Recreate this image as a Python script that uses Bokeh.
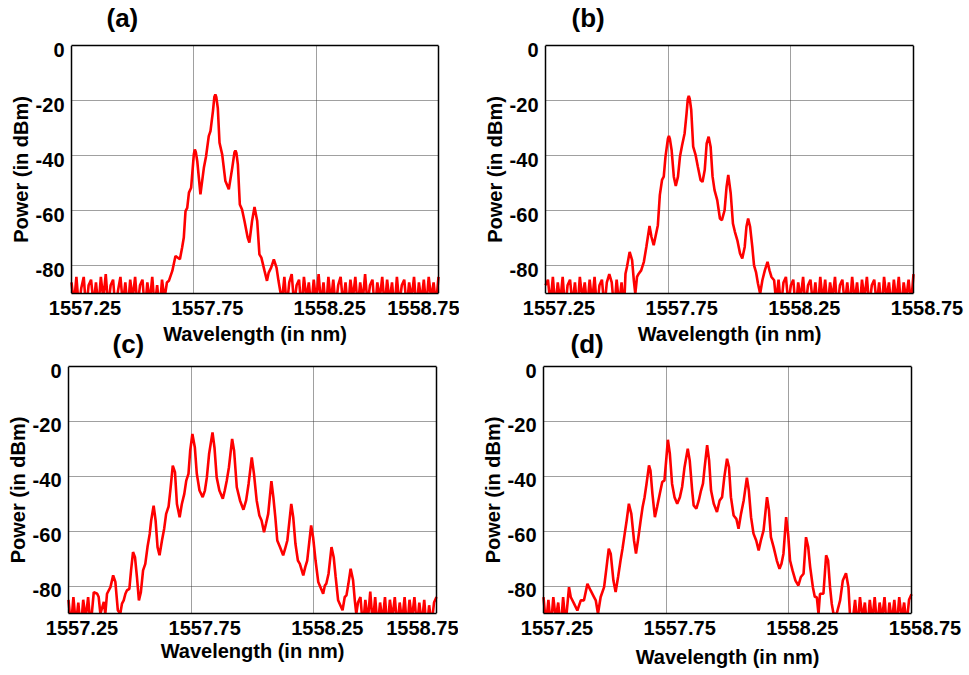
from bokeh.plotting import figure
from bokeh.layouts import column, row
from bokeh.models import Range1d, FixedTicker, LinearAxis, Grid, Span, PrintfTickFormatter
from bokeh.embed import file_html
from bokeh.resources import INLINE

# ---------------- data ----------------
X_START, X_END = 1557.25, 1558.75
Y_START, Y_END = -90, 0
X_TICKS = [1557.25, 1557.75, 1558.25, 1558.75]
X_GRID = [1557.75, 1558.25]
Y_TICKS = [-80, -60, -40, -20, 0]
Y_GRID = [-80, -60, -40, -20]
PANEL_TAGS = ["(a)", "(b)", "(c)", "(d)"]
X_LABEL = "Wavelength (in nm)"
Y_LABEL = "Power (in dBm)"

# panel (a): (wavelength nm, power dBm)
A_NOISE_LEFT = [(1557.25, -86), (1557.26, -94), (1557.27, -84), (1557.28, -95), (1557.29, -88), (1557.30, -84),
                (1557.31, -96), (1557.32, -87), (1557.33, -85), (1557.34, -94), (1557.35, -86), (1557.36, -95),
                (1557.37, -84), (1557.38, -92), (1557.39, -83), (1557.40, -95), (1557.41, -87), (1557.42, -85),
                (1557.43, -96), (1557.44, -89), (1557.45, -84), (1557.46, -94), (1557.47, -86), (1557.48, -96),
                (1557.49, -85), (1557.50, -92), (1557.51, -84), (1557.52, -95), (1557.53, -87), (1557.54, -85),
                (1557.55, -96), (1557.56, -86), (1557.57, -93), (1557.58, -84), (1557.59, -95), (1557.60, -87),
                (1557.61, -96), (1557.62, -85), (1557.63, -92), (1557.64, -86)]
A_SIGNAL = [(1557.648, -85.4), (1557.662, -81.8), (1557.675, -76.4), (1557.693, -77.6), (1557.702, -73.4),
            (1557.709, -69.7), (1557.716, -60.1), (1557.723, -58.9), (1557.730, -53.4), (1557.739, -51.6),
            (1557.750, -39.5), (1557.754, -37.7), (1557.758, -38.6), (1557.764, -42.0), (1557.777, -54.0),
            (1557.791, -44.4), (1557.800, -40.2), (1557.811, -32.9), (1557.818, -31.1), (1557.828, -23.9),
            (1557.834, -18.6), (1557.838, -17.8), (1557.842, -18.8), (1557.848, -22.7), (1557.855, -35.3),
            (1557.866, -39.6), (1557.879, -49.2), (1557.893, -52.2), (1557.907, -44.4), (1557.916, -38.8),
            (1557.920, -38.1), (1557.924, -39.0), (1557.930, -43.2), (1557.938, -57.7), (1557.947, -59.5),
            (1557.957, -63.7), (1557.970, -69.7), (1557.977, -71.5), (1557.988, -63.7), (1557.998, -58.6),
            (1558.009, -63.7), (1558.018, -75.8), (1558.026, -77.0), (1558.039, -81.8), (1558.049, -85.4),
            (1558.056, -82.4), (1558.066, -80.6), (1558.077, -77.6), (1558.088, -80.6), (1558.096, -85.4),
            (1558.104, -89.6)]
A_NOISE_RIGHT = [(1558.11, -93), (1558.12, -84), (1558.13, -95), (1558.14, -86), (1558.15, -83), (1558.16, -94),
                 (1558.17, -87), (1558.18, -85), (1558.19, -96), (1558.20, -84), (1558.21, -92), (1558.22, -86),
                 (1558.23, -95), (1558.24, -85), (1558.25, -93), (1558.26, -83), (1558.27, -94), (1558.28, -86),
                 (1558.29, -96), (1558.30, -84), (1558.31, -93), (1558.32, -85), (1558.33, -95), (1558.34, -87),
                 (1558.35, -84), (1558.36, -94), (1558.37, -86), (1558.38, -96), (1558.39, -85), (1558.40, -92),
                 (1558.41, -84), (1558.42, -95), (1558.43, -86), (1558.44, -93), (1558.45, -83), (1558.46, -94),
                 (1558.47, -87), (1558.48, -85), (1558.49, -96), (1558.50, -86), (1558.51, -92), (1558.52, -84),
                 (1558.53, -95), (1558.54, -85), (1558.55, -93), (1558.56, -86), (1558.57, -96), (1558.58, -84),
                 (1558.59, -94), (1558.60, -87), (1558.61, -85), (1558.62, -95), (1558.63, -86), (1558.64, -92),
                 (1558.65, -84), (1558.66, -96), (1558.67, -86), (1558.68, -93), (1558.69, -85), (1558.70, -95),
                 (1558.71, -84), (1558.72, -92), (1558.73, -86), (1558.74, -94), (1558.75, -84)]

# panel (b)
B_NOISE_LEFT = [(1557.25, -87), (1557.26, -85), (1557.27, -94), (1557.28, -84), (1557.29, -95), (1557.30, -86),
                (1557.31, -93), (1557.32, -84), (1557.33, -96), (1557.34, -87), (1557.35, -85), (1557.36, -94),
                (1557.37, -86), (1557.38, -96), (1557.39, -84), (1557.40, -92), (1557.41, -86), (1557.42, -95),
                (1557.43, -85), (1557.44, -93), (1557.45, -84), (1557.46, -96), (1557.47, -87), (1557.48, -85),
                (1557.49, -95), (1557.50, -86), (1557.51, -83), (1557.52, -86), (1557.53, -96), (1557.54, -85),
                (1557.55, -94), (1557.56, -86), (1557.57, -96)]
B_SIGNAL = [(1557.576, -82.8), (1557.582, -80.4), (1557.593, -74.9), (1557.603, -77.9), (1557.610, -85.2),
            (1557.616, -90.1), (1557.623, -84.0), (1557.630, -82.8), (1557.640, -81.6), (1557.651, -78.5),
            (1557.661, -73.1), (1557.674, -65.5), (1557.682, -69.5), (1557.691, -72.5), (1557.698, -69.5),
            (1557.708, -65.2), (1557.716, -54.3), (1557.725, -48.8), (1557.732, -47.6), (1557.739, -40.4),
            (1557.749, -33.8), (1557.753, -32.8), (1557.757, -33.9), (1557.764, -37.9), (1557.773, -47.6),
            (1557.781, -51.0), (1557.790, -47.6), (1557.798, -40.4), (1557.807, -36.1), (1557.817, -31.9),
            (1557.825, -24.6), (1557.830, -19.5), (1557.834, -18.3), (1557.838, -19.4), (1557.844, -23.4),
            (1557.852, -36.7), (1557.862, -39.8), (1557.871, -44.0), (1557.882, -48.8), (1557.890, -49.5),
            (1557.899, -45.2), (1557.907, -35.5), (1557.915, -33.1), (1557.923, -36.7), (1557.931, -47.6),
            (1557.939, -52.5), (1557.950, -56.1), (1557.961, -62.8), (1557.969, -63.4), (1557.980, -59.8),
            (1557.988, -51.3), (1557.995, -47.0), (1558.005, -53.7), (1558.014, -64.6), (1558.022, -67.6),
            (1558.032, -70.7), (1558.043, -75.5), (1558.052, -77.3), (1558.062, -73.1), (1558.069, -65.8),
            (1558.076, -62.8), (1558.084, -65.8), (1558.093, -73.1), (1558.100, -79.8), (1558.108, -82.2),
            (1558.116, -86.4), (1558.125, -90.1), (1558.134, -85.2), (1558.144, -81.6), (1558.155, -78.5),
            (1558.163, -81.6), (1558.171, -84.0), (1558.182, -85.2)]
B_NOISE_RIGHT = [(1558.19, -93), (1558.20, -85), (1558.21, -95), (1558.22, -86), (1558.23, -84), (1558.24, -94),
                 (1558.25, -87), (1558.26, -85), (1558.27, -96), (1558.28, -86), (1558.29, -92), (1558.30, -84),
                 (1558.31, -95), (1558.32, -87), (1558.33, -85), (1558.34, -94), (1558.35, -86), (1558.36, -96),
                 (1558.37, -84), (1558.38, -93), (1558.39, -85), (1558.40, -95), (1558.41, -86), (1558.42, -92),
                 (1558.43, -84), (1558.44, -96), (1558.45, -87), (1558.46, -85), (1558.47, -94), (1558.48, -86),
                 (1558.49, -95), (1558.50, -84), (1558.51, -93), (1558.52, -86), (1558.53, -96), (1558.54, -85),
                 (1558.55, -92), (1558.56, -84), (1558.57, -95), (1558.58, -87), (1558.59, -85), (1558.60, -94),
                 (1558.61, -86), (1558.62, -96), (1558.63, -84), (1558.64, -92), (1558.65, -86), (1558.66, -95),
                 (1558.67, -85), (1558.68, -93), (1558.69, -84), (1558.70, -96), (1558.71, -86), (1558.72, -92),
                 (1558.73, -85), (1558.74, -94), (1558.75, -83)]

# panel (c)
C_NOISE_LEFT = [(1557.25, -85), (1557.26, -95), (1557.27, -84), (1557.28, -94), (1557.29, -86), (1557.30, -96),
                (1557.31, -85), (1557.32, -92), (1557.33, -84), (1557.34, -95)]
C_SIGNAL = [(1557.353, -82.2), (1557.367, -82.8), (1557.373, -84.0), (1557.380, -90.1), (1557.394, -85.8),
            (1557.400, -90.1), (1557.407, -82.8), (1557.421, -80.4), (1557.432, -76.1), (1557.441, -78.5),
            (1557.451, -88.8), (1557.461, -90.1), (1557.468, -86.4), (1557.475, -85.2), (1557.482, -82.8),
            (1557.488, -81.6), (1557.498, -81.0), (1557.505, -74.3), (1557.513, -67.6), (1557.521, -69.5),
            (1557.529, -76.7), (1557.537, -85.2), (1557.545, -82.2), (1557.554, -74.3), (1557.563, -71.9),
            (1557.572, -65.8), (1557.581, -61.0), (1557.587, -56.1), (1557.597, -50.7), (1557.605, -56.1),
            (1557.613, -65.8), (1557.621, -68.8), (1557.631, -63.4), (1557.640, -59.1), (1557.648, -53.7),
            (1557.658, -51.0), (1557.665, -45.2), (1557.675, -36.1), (1557.684, -38.5), (1557.692, -50.1),
            (1557.703, -54.9), (1557.712, -50.1), (1557.722, -46.4), (1557.730, -41.6), (1557.739, -39.1),
            (1557.746, -30.7), (1557.755, -24.6), (1557.765, -29.5), (1557.773, -39.1), (1557.784, -45.2),
            (1557.797, -47.6), (1557.806, -45.2), (1557.814, -40.4), (1557.823, -31.9), (1557.837, -24.0),
            (1557.845, -29.5), (1557.854, -40.4), (1557.865, -45.2), (1557.879, -48.2), (1557.887, -45.2),
            (1557.895, -41.6), (1557.904, -36.7), (1557.917, -26.4), (1557.925, -30.7), (1557.936, -44.0),
            (1557.949, -48.8), (1557.963, -52.2), (1557.974, -48.8), (1557.984, -42.8), (1557.997, -33.1),
            (1558.006, -39.1), (1558.017, -48.8), (1558.028, -54.3), (1558.037, -56.1), (1558.047, -60.4),
            (1558.055, -57.3), (1558.064, -53.7), (1558.077, -41.8), (1558.085, -47.6), (1558.093, -54.9),
            (1558.101, -63.4), (1558.112, -65.8), (1558.125, -68.8), (1558.133, -66.4), (1558.142, -63.4),
            (1558.158, -50.1), (1558.166, -54.9), (1558.175, -64.6), (1558.185, -70.7), (1558.193, -71.9),
            (1558.207, -76.1), (1558.215, -73.1), (1558.223, -70.7), (1558.239, -57.9), (1558.247, -62.2),
            (1558.257, -70.7), (1558.268, -78.5), (1558.277, -80.4), (1558.288, -82.8), (1558.295, -79.8),
            (1558.301, -79.1), (1558.310, -75.5), (1558.322, -65.8), (1558.331, -69.5), (1558.339, -76.7),
            (1558.349, -85.2), (1558.358, -87.0), (1558.367, -88.8), (1558.376, -84.0), (1558.383, -83.4),
            (1558.391, -79.1), (1558.400, -73.7), (1558.410, -77.9), (1558.417, -85.2), (1558.423, -90.1)]
C_NOISE_RIGHT = [(1558.43, -86), (1558.44, -84), (1558.45, -95), (1558.46, -85), (1558.47, -93), (1558.48, -82),
                 (1558.49, -94), (1558.50, -84), (1558.51, -95), (1558.52, -86), (1558.53, -93), (1558.54, -84),
                 (1558.55, -96), (1558.56, -85), (1558.57, -92), (1558.58, -84), (1558.59, -95), (1558.60, -86),
                 (1558.61, -93), (1558.62, -84), (1558.63, -96), (1558.64, -85), (1558.65, -92), (1558.66, -84),
                 (1558.67, -95), (1558.68, -86), (1558.69, -94), (1558.70, -85), (1558.71, -96), (1558.72, -87),
                 (1558.73, -94), (1558.74, -86), (1558.75, -84)]

# panel (d)
D_NOISE_LEFT = [(1557.25, -84), (1557.26, -94), (1557.27, -85), (1557.28, -95), (1557.29, -84), (1557.30, -92),
                (1557.31, -86), (1557.32, -96), (1557.33, -84), (1557.34, -94)]
D_SIGNAL = [(1557.354, -80.4), (1557.361, -84.0), (1557.375, -86.5), (1557.388, -88.9), (1557.402, -85.2),
            (1557.415, -85.2), (1557.429, -79.2), (1557.442, -81.6), (1557.456, -84.0), (1557.463, -85.2),
            (1557.472, -90.1), (1557.483, -84.0), (1557.497, -80.4), (1557.507, -73.1), (1557.516, -66.4),
            (1557.524, -68.2), (1557.535, -78.0), (1557.544, -82.2), (1557.554, -76.7), (1557.564, -70.7),
            (1557.572, -66.4), (1557.581, -60.9), (1557.589, -56.1), (1557.598, -50.0), (1557.608, -53.7),
            (1557.619, -63.4), (1557.627, -68.2), (1557.635, -63.4), (1557.646, -56.1), (1557.654, -51.2),
            (1557.662, -47.6), (1557.670, -42.7), (1557.680, -36.0), (1557.686, -37.9), (1557.694, -46.4),
            (1557.704, -54.9), (1557.713, -51.2), (1557.724, -46.4), (1557.734, -42.1), (1557.743, -41.5),
            (1557.750, -34.2), (1557.757, -26.7), (1557.765, -31.8), (1557.774, -42.7), (1557.784, -47.6),
            (1557.795, -50.0), (1557.806, -47.6), (1557.815, -43.9), (1557.825, -36.6), (1557.838, -30.0),
            (1557.846, -34.2), (1557.856, -45.2), (1557.862, -50.6), (1557.873, -51.8), (1557.883, -48.8),
            (1557.892, -45.2), (1557.900, -42.7), (1557.907, -36.6), (1557.917, -28.7), (1557.925, -34.2),
            (1557.933, -45.2), (1557.944, -50.0), (1557.957, -53.0), (1557.968, -48.8), (1557.978, -47.6),
            (1557.987, -40.3), (1557.998, -33.6), (1558.006, -36.6), (1558.014, -47.6), (1558.025, -54.3),
            (1558.036, -55.5), (1558.045, -59.1), (1558.055, -53.7), (1558.066, -48.8), (1558.079, -40.5),
            (1558.087, -45.2), (1558.096, -54.9), (1558.106, -60.9), (1558.117, -63.4), (1558.127, -67.0),
            (1558.136, -63.4), (1558.147, -59.7), (1558.161, -47.6), (1558.169, -52.4), (1558.177, -62.2),
            (1558.188, -65.8), (1558.201, -70.7), (1558.212, -73.7), (1558.220, -71.9), (1558.228, -68.2),
            (1558.239, -54.9), (1558.247, -60.9), (1558.255, -70.7), (1558.265, -74.3), (1558.277, -78.0),
            (1558.289, -79.8), (1558.299, -76.7), (1558.310, -75.5), (1558.320, -62.2), (1558.329, -65.8),
            (1558.337, -73.1), (1558.348, -80.4), (1558.356, -84.0), (1558.364, -84.0), (1558.371, -90.1),
            (1558.377, -82.8), (1558.391, -82.8), (1558.402, -68.8), (1558.410, -70.7), (1558.418, -80.4),
            (1558.425, -86.5), (1558.432, -90.1), (1558.445, -90.1), (1558.459, -85.2), (1558.470, -78.0),
            (1558.483, -75.3), (1558.493, -80.4), (1558.499, -90.1)]
D_NOISE_RIGHT = [(1558.51, -93), (1558.52, -85), (1558.53, -95), (1558.54, -84), (1558.55, -92), (1558.56, -86),
                 (1558.57, -96), (1558.58, -85), (1558.59, -93), (1558.60, -84), (1558.61, -95), (1558.62, -86),
                 (1558.63, -92), (1558.64, -84), (1558.65, -96), (1558.66, -86), (1558.67, -93), (1558.68, -85),
                 (1558.69, -95), (1558.70, -84), (1558.71, -92), (1558.72, -86), (1558.73, -94), (1558.74, -85),
                 (1558.75, -83)]

SPECTRA = [A_NOISE_LEFT + A_SIGNAL + A_NOISE_RIGHT,
           B_NOISE_LEFT + B_SIGNAL + B_NOISE_RIGHT,
           C_NOISE_LEFT + C_SIGNAL + C_NOISE_RIGHT,
           D_NOISE_LEFT + D_SIGNAL + D_NOISE_RIGHT]

# ---------------- style / layout ----------------
FONT = "Liberation Sans"
YLABEL_DROP_PX = 4       # y tick labels sit slightly below their grid lines
XLABEL_SHIFT_PX = 13.5   # x tick labels sit right of their ticks
EXTRA_PX = 15            # frame room on both sides of the data box (keeps the axis title centred)
YTICK_GAP_PX = 7
BOX_W = 1.5
GEOMS = [dict(bl=71, fw=367, br=6, bt=59, fh=248, bb=60, toff=35, tst=26, xls=5),
         dict(bl=86, fw=368, br=40, bt=59, fh=248, bb=60, toff=26, tst=26, xls=5),
         dict(bl=68, fw=368, br=7, bt=48, fh=247, bb=60, toff=44, tst=15, xls=2),
         dict(bl=85, fw=368, br=41, bt=48, fh=247, bb=60, toff=27, tst=15, xls=8)]


def style_axis(ax, label, label_standoff, tick_standoff, line=True):
    ax.axis_line_color = "black" if line else None
    ax.axis_line_width = BOX_W
    ax.major_tick_line_color = None
    ax.minor_tick_line_color = None
    ax.major_tick_out = 0
    ax.major_tick_in = 0
    ax.minor_tick_out = 0
    ax.minor_tick_in = 0
    ax.major_label_standoff = tick_standoff
    ax.major_label_text_font = FONT
    ax.major_label_text_font_size = "20px"
    ax.major_label_text_font_style = "bold"
    ax.major_label_text_color = "black"
    ax.axis_label = label
    ax.axis_label_text_font = FONT
    ax.axis_label_text_font_size = "20px"
    ax.axis_label_text_font_style = "bold"
    ax.axis_label_text_color = "black"
    ax.axis_label_standoff = label_standoff


def make_panel(tag, pts, g):
    pts = sorted(pts)
    xs = [q[0] for q in pts]
    ys = [q[1] for q in pts]
    nm_per_px = (X_END - X_START) / g["fw"]
    ext = EXTRA_PX * nm_per_px
    shift = XLABEL_SHIFT_PX * nm_per_px
    drop = YLABEL_DROP_PX * (Y_END - Y_START) / g["fh"]

    p = figure(frame_width=g["fw"] + 2 * EXTRA_PX, frame_height=g["fh"],
               min_border_left=g["bl"] - EXTRA_PX, min_border_right=g["br"],
               min_border_top=g["bt"], min_border_bottom=g["bb"],
               x_range=Range1d(X_START - ext, X_END + ext), y_range=Range1d(Y_START, Y_END),
               x_axis_location=None, y_axis_location=None, title=tag,
               tools="", toolbar_location=None, output_backend="svg")
    p.border_fill_color = None
    p.background_fill_color = None
    p.outline_line_color = None
    p.grid.visible = False

    t = p.title
    t.align = "left"
    t.offset = g["toff"] + EXTRA_PX
    t.standoff = g["tst"]
    t.text_font = FONT
    t.text_font_size = "26px"
    t.text_font_style = "bold"
    t.text_color = "black"

    p.add_layout(Grid(dimension=0, ticker=FixedTicker(ticks=X_GRID),
                      grid_line_color="#404040", grid_line_width=1, grid_line_dash="1 1"))
    p.add_layout(Grid(dimension=1, ticker=FixedTicker(ticks=Y_GRID), cross_bounds=(X_START, X_END),
                      grid_line_color="#404040", grid_line_width=1, grid_line_dash="1 1"))

    # bottom axis: tick labels shifted right of their ticks, line limited to the data box
    p.extra_x_ranges = {"lbl": Range1d(X_START - ext - shift, X_END + ext - shift)}
    xa = LinearAxis(x_range_name="lbl", ticker=FixedTicker(ticks=X_TICKS),
                    formatter=PrintfTickFormatter(format="%.2f"),
                    bounds=(X_START - shift, X_END - shift))
    style_axis(xa, X_LABEL, g["xls"], 7)
    p.add_layout(xa, "below")

    # top edge of the box
    top = LinearAxis(ticker=FixedTicker(ticks=[]), bounds=(X_START, X_END))
    style_axis(top, None, 0, 0)
    p.add_layout(top, "above")

    # left axis: labels a little below their grid lines (axis sits EXTRA_PX left of the box)
    p.extra_y_ranges = {"ylbl": Range1d(Y_START + drop, Y_END + drop)}
    ya = LinearAxis(y_range_name="ylbl", ticker=FixedTicker(ticks=Y_TICKS),
                    formatter=PrintfTickFormatter(format="%d"))
    style_axis(ya, Y_LABEL, 1, YTICK_GAP_PX - EXTRA_PX, line=False)
    p.add_layout(ya, "left")

    # left and right edges of the box
    for loc in (X_START, X_END):
        p.add_layout(Span(location=loc, dimension="height", line_color="black", line_width=BOX_W))

    p.line(xs, ys, line_color="#ff0000", line_width=2.6)
    return p


panels = [make_panel(t, s, g) for t, s, g in zip(PANEL_TAGS, SPECTRA, GEOMS)]
layout = column(row(panels[0], panels[1], margin=(-14, 0, 0, 0)),
                row(panels[2], panels[3], margin=(-35, 0, 0, 0)))

open("out.html", "w").write(file_html(layout, INLINE))
